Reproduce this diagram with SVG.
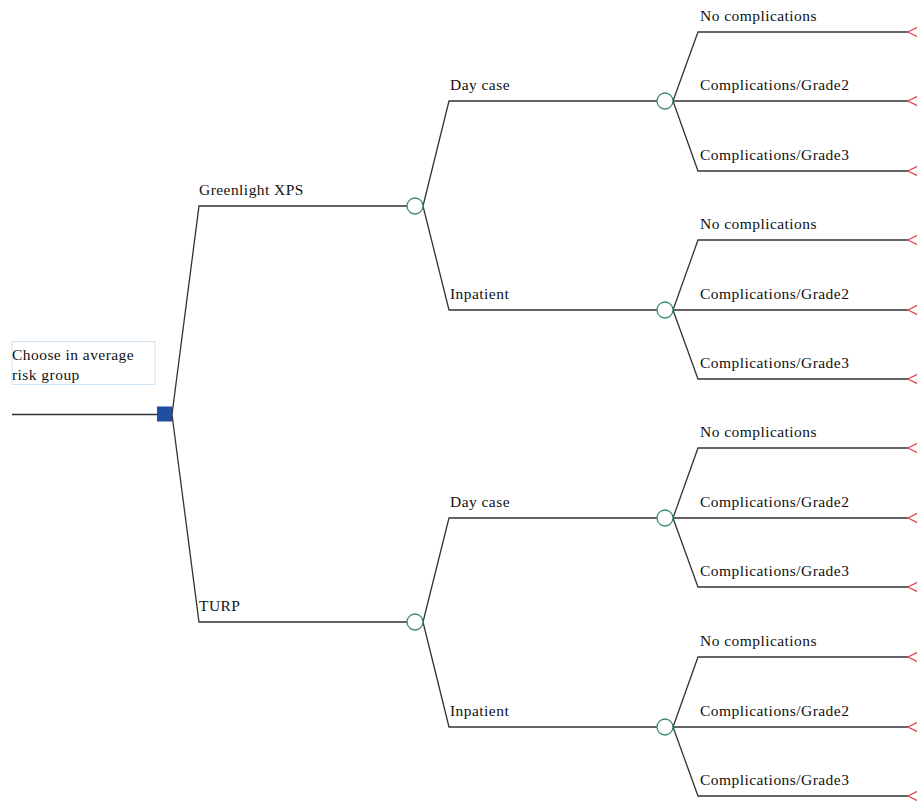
<svg xmlns="http://www.w3.org/2000/svg" width="917" height="801" viewBox="0 0 917 801">
<style>
.e{fill:none;stroke:#333;stroke-width:1.3}
.t{font-family:"Liberation Serif","DejaVu Serif",serif;font-size:15.5px;letter-spacing:0.45px;fill:#111}
.c{fill:#fff;stroke:#3d8a6c;stroke-width:1.3}
.d{fill:#1f4fa3}
.x{fill:#fff;stroke:#d9434f;stroke-width:1.2}
.b{fill:#fff;stroke:#cfe3f2;stroke-width:1}
</style>
<rect width="917" height="801" fill="#fff"/>
<g id="connectors">
<path class="e" d="M12,414.5H157"/>
<path class="e" d="M172,414.5L199,206H407M172,414.5L199,622H407"/>
<path class="e" d="M423,206L449,101H657M423,206L449,310H657"/>
<path class="e" d="M423,622L449,518H657M423,622L449,727H657"/>
<path class="e" d="M673,101L698,32H908M673,101H908M673,101L698,171H908"/>
<path class="e" d="M673,310L698,240H908M673,310H908M673,310L698,379H908"/>
<path class="e" d="M673,518L698,448H908M673,518H908M673,518L698,587H908"/>
<path class="e" d="M673,727L698,657H908M673,727H908M673,727L698,796H908"/>
</g>
<g id="root-label">
<rect class="b" x="12" y="341.5" width="143" height="43"/>
<text class="t" x="12" y="360">Choose in average</text>
<text class="t" x="12" y="380">risk group</text>
</g>
<g id="decision"><rect class="d" x="157" y="406.5" width="15" height="15"/></g>
<g id="greenlight"><text class="t" x="199" y="195">Greenlight XPS</text><circle class="c" cx="415" cy="206" r="8"/></g>
<g id="turp"><text class="t" x="199" y="611">TURP</text><circle class="c" cx="415" cy="622" r="8"/></g>
<g id="g-day"><text class="t" x="450" y="90">Day case</text><circle class="c" cx="665" cy="101" r="8"/></g>
<g id="g-inp"><text class="t" x="450" y="299">Inpatient</text><circle class="c" cx="665" cy="310" r="8"/></g>
<g id="t-day"><text class="t" x="450" y="507">Day case</text><circle class="c" cx="665" cy="518" r="8"/></g>
<g id="t-inp"><text class="t" x="450" y="716">Inpatient</text><circle class="c" cx="665" cy="727" r="8"/></g>
<g id="o1"><text class="t" x="700" y="21">No complications</text><polygon class="x" points="908,32 926,23 926,41"/></g>
<g id="o2"><text class="t" x="700" y="90">Complications/Grade2</text><polygon class="x" points="908,101 926,92 926,110"/></g>
<g id="o3"><text class="t" x="700" y="160">Complications/Grade3</text><polygon class="x" points="908,171 926,162 926,180"/></g>
<g id="o4"><text class="t" x="700" y="229">No complications</text><polygon class="x" points="908,240 926,231 926,249"/></g>
<g id="o5"><text class="t" x="700" y="299">Complications/Grade2</text><polygon class="x" points="908,310 926,301 926,319"/></g>
<g id="o6"><text class="t" x="700" y="368">Complications/Grade3</text><polygon class="x" points="908,379 926,370 926,388"/></g>
<g id="o7"><text class="t" x="700" y="437">No complications</text><polygon class="x" points="908,448 926,439 926,457"/></g>
<g id="o8"><text class="t" x="700" y="507">Complications/Grade2</text><polygon class="x" points="908,518 926,509 926,527"/></g>
<g id="o9"><text class="t" x="700" y="576">Complications/Grade3</text><polygon class="x" points="908,587 926,578 926,596"/></g>
<g id="o10"><text class="t" x="700" y="646">No complications</text><polygon class="x" points="908,657 926,648 926,666"/></g>
<g id="o11"><text class="t" x="700" y="716">Complications/Grade2</text><polygon class="x" points="908,727 926,718 926,736"/></g>
<g id="o12"><text class="t" x="700" y="785">Complications/Grade3</text><polygon class="x" points="908,796 926,787 926,805"/></g>
</svg>
